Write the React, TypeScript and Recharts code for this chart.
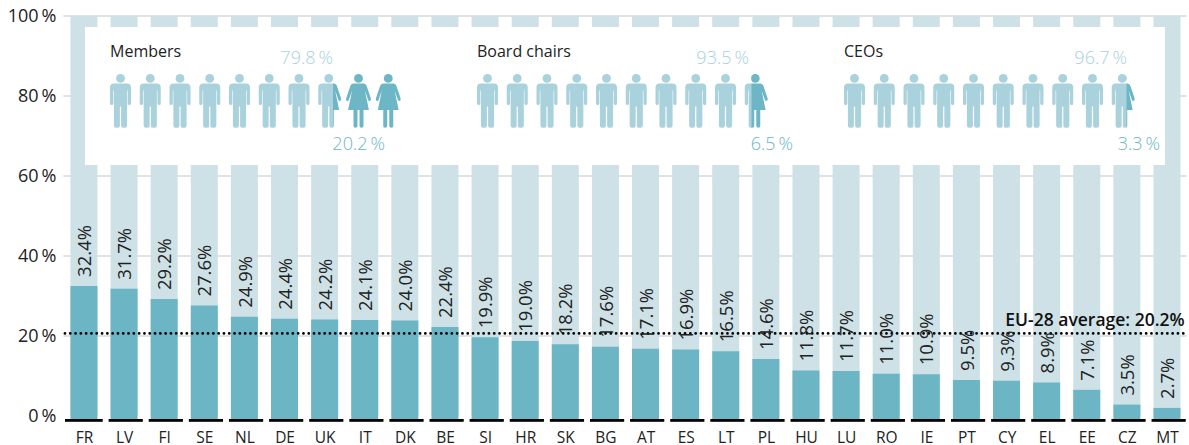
import { BarChart, Bar, XAxis, YAxis, CartesianGrid, LabelList, ReferenceLine } from "recharts";

const countries = ["FR", "LV", "FI", "SE", "NL", "DE", "UK", "IT", "DK", "BE", "SI", "HR", "SK", "BG", "AT", "ES", "LT", "PL", "HU", "LU", "RO", "IE", "PT", "CY", "EL", "EE", "CZ", "MT"];
const womenShare = [32.4, 31.7, 29.2, 27.6, 24.9, 24.4, 24.2, 24.1, 24.0, 22.4, 19.9, 19.0, 18.2, 17.6, 17.1, 16.9, 16.5, 14.6, 11.8, 11.7, 11.0, 10.9, 9.5, 9.3, 8.9, 7.1, 3.5, 2.7];
const yTicks = [0, 20, 40, 60, 80, 100];
const euAverage = 20.2;

const panelTitles = ["Members", "Board chairs", "CEOs"];
const panelMen = ["79.8", "93.5", "96.7"];
const panelWomen = ["20.2", "6.5", "3.3"];
const wholeMen = [7, 9, 9];
const splitMan = [0.66, 0.34, 0.66];
const wholeWomen = [2, 0, 0];

const data = countries.map((country, i) => ({ country, women: womenShare[i], full: 100 }));

const FONT = "'Open Sans', sans-serif";
const LIGHT_BAR = "#cde1e7";
const DARK_BAR = "#6cb5c5";
const MAN = "#a9d2dc";
const WOMAN = "#6cb6c6";

const manPath =
  "M-6.5 9.5H6.5Q10.5 9.5 10.5 13.5V29.5Q10.5 31 9 31Q7.2 31 7.2 29.5V16.5H6.6V51.5Q6.6 53.7 4.4 53.7H2.6Q.6 53.7 .6 51.5V32.5H-.6V51.5Q-.6 53.7 -2.6 53.7H-4.4Q-6.6 53.7 -6.6 51.5V16.5H-7.2V29.5Q-7.2 31 -9 31Q-10.5 31 -10.5 29.5V13.5Q-10.5 9.5 -6.5 9.5Z";
const womanPath =
  "M-5 9.5H5Q7 9.5 8 11.5L12.4 24.5Q12.8 26.6 11.3 27Q10.2 27.2 9.6 25.8L6.4 16.5L10.4 36H5V51.7Q5 53.7 3.2 53.7Q1 53.7 1 51.7V36H-1V51.7Q-1 53.7 -3.2 53.7Q-5 53.7 -5 51.7V36H-10.4L-6.4 16.5L-9.6 25.8Q-10.2 27.2 -11.3 27Q-12.8 26.6 -12.4 24.5L-8 11.5Q-7 9.5 -5 9.5Z";

function Person({ x, path, fill }: { x: number; path: string; fill: string }) {
  return (
    <g transform={`translate(${x},74)`} fill={fill}>
      <circle cx={0} cy={4.4} r={4.4} />
      <path d={path} />
    </g>
  );
}

function SplitPerson({ x, share, id }: { x: number; share: number; id: string }) {
  const cut = x - 12.5 + 25 * share;
  return (
    <g>
      <clipPath id={`${id}-l`}>
        <rect x={x - 14} y={70} width={cut - x + 14} height={60} />
      </clipPath>
      <clipPath id={`${id}-r`}>
        <rect x={cut} y={70} width={x + 14 - cut} height={60} />
      </clipPath>
      <g clipPath={`url(#${id}-l)`}>
        <Person x={x} path={manPath} fill={MAN} />
      </g>
      <g clipPath={`url(#${id}-r)`}>
        <Person x={x} path={womanPath} fill={WOMAN} />
      </g>
    </g>
  );
}

const panelX = [110, 477, 844];
const menLabelX = [333, 749, 1127];
const womenLabelX = [385, 793, 1160];

// sits on top of the chart, bars would otherwise paint over it
function Panel() {
  return (
    <svg width={1189} height={445} style={{ position: "absolute", left: 0, top: 0, pointerEvents: "none" }}>
      <rect x={85} y={27} width={1080} height={138} fill="#fff" />
      {panelTitles.map((title, p) => {
        const startX = panelX[p] + 10.5;
        const people: any[] = [];
        let n = 0;
        for (let i = 0; i < wholeMen[p]; i++) people.push(<Person key={`m${i}`} x={startX + 29.75 * n++} path={manPath} fill={MAN} />);
        people.push(<SplitPerson key="s" id={`split${p}`} x={startX + 29.75 * n++} share={splitMan[p]} />);
        for (let i = 0; i < wholeWomen[p]; i++) people.push(<Person key={`w${i}`} x={startX + 29.75 * n++} path={womanPath} fill={WOMAN} />);
        return (
          <g key={title} fontFamily={FONT}>
            <text x={panelX[p]} y={57} fontSize={16} fill="#222">{title}</text>
            {people}
            <text x={menLabelX[p]} y={64} fontSize={18} fontWeight={300} textAnchor="end" fill={MAN}>{`${panelMen[p]}\u2009%`}</text>
            <text x={womenLabelX[p]} y={150} fontSize={18} fontWeight={300} textAnchor="end" fill={WOMAN}>{`${panelWomen[p]}\u2009%`}</text>
          </g>
        );
      })}
    </svg>
  );
}

function CountryTick({ x, y, payload, index }: any) {
  const left = index === 0 ? x - 18.5 : x - 15;
  return (
    <g>
      <rect x={left} y={419} width={x + 19.2 - left} height={2.8} fill="#000" />
      <text x={x + 1} y={y + 16} textAnchor="middle" fontFamily={FONT} fontSize={15.5} fill="#222">{payload.value}</text>
    </g>
  );
}

function ShareLabel({ x, y, width, value }: any) {
  const cx = x + width / 2 + 0.5;
  const by = y - 9;
  return (
    <text transform={`rotate(-90 ${cx} ${by})`} x={cx} y={by} dy="0.36em" fontFamily={FONT} fontSize={18.5} fill="#222">
      {`${value.toFixed(1)}%`}
    </text>
  );
}

function DottedLine({ x1, x2, y1 }: any) {
  return <line x1={x1 + 1.5} x2={x2} y1={y1 - 1.8} y2={y1 - 1.8} stroke="#000" strokeWidth={2.8} strokeLinecap="round" strokeDasharray="0 5.3" />;
}

export default function App() {
  return (
    <div style={{ position: "absolute", left: 0, top: 0, width: 1189, height: 445 }}>
      <BarChart
        width={1189}
        height={445}
        data={data}
        margin={{ top: 16, right: 2.4, left: 0, bottom: 0 }}
        barSize={27}
        barGap={-27}
      >
        <CartesianGrid yAxisId="axis" vertical={false} horizontalValues={[20, 40, 60, 80, 100]} stroke="#d9d9d9" strokeWidth={1.5} />
        <XAxis dataKey="country" interval={0} height={26} axisLine={false} tickLine={false} tick={<CountryTick />} />
        <YAxis
          yAxisId="axis"
          width={63.45}
          domain={[-0.75, 100]}
          ticks={yTicks}
          interval={0}
          axisLine={false}
          tickLine={false}
          tickMargin={1}
          allowDataOverflow
          tick={{ fontFamily: FONT, fontSize: 18, fill: "#222" }}
          tickFormatter={(v) => `${v}\u2009%`}
        />
        <YAxis yAxisId="bars" hide domain={[0, 98.1]} allowDataOverflow />
        <Bar yAxisId="axis" dataKey="full" fill={LIGHT_BAR} isAnimationActive={false} />
        <Bar yAxisId="bars" dataKey="women" fill={DARK_BAR} isAnimationActive={false}>
          <LabelList dataKey="women" content={<ShareLabel />} />
        </Bar>
        <ReferenceLine
          yAxisId="axis"
          y={euAverage}
          shape={<DottedLine />}
          label={{
            value: `EU-28 average: ${euAverage}%`,
            position: "insideBottomRight",
            fontFamily: FONT,
            fontSize: 17.5,
            fontWeight: 600,
            fill: "#111",
            dx: 3,
            dy: -4,
          }}
        />
      </BarChart>
      <Panel />
    </div>
  );
}
